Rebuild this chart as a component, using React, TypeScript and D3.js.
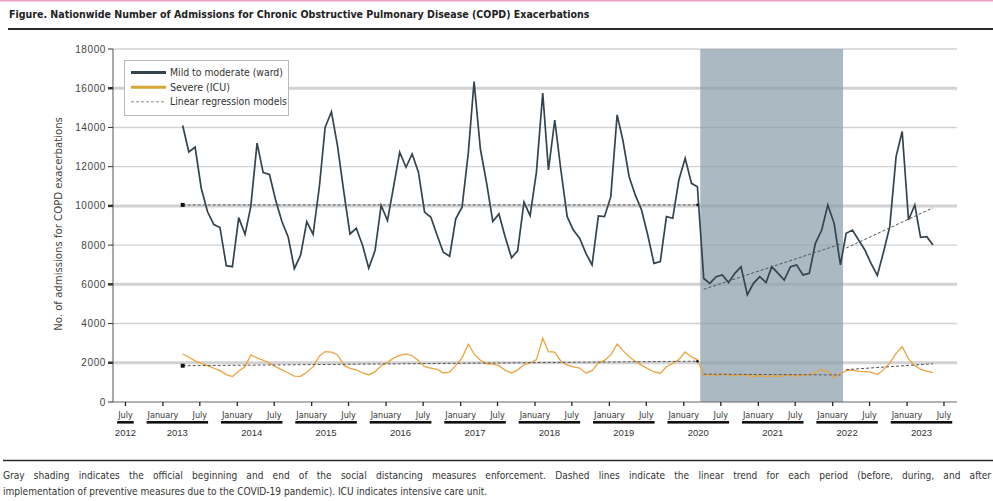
import * as d3 from "d3";
import { useEffect, useRef } from "react";

// Monthly admissions, April 2013 to May 2023
const firstYear = 2013;
const firstMonth = 3; // April

const wardAdmissions = [
  14100, 12750, 13000, 10900, 9700, 9050, 8900, 6950, 6900, 9400,
  8550, 9950, 13200, 11700, 11600, 10300, 9200, 8400, 6800, 7500,
  9200, 8550, 11000, 14000, 14800, 13050, 10700, 8570, 8860, 7980,
  6820, 7720, 10020, 9250, 11040, 12740, 11970, 12650, 11720, 9680,
  9420, 8490, 7640, 7430, 9340, 9930, 12740, 16340, 12900, 11200,
  9200, 9590, 8400, 7350, 7720, 10190, 9500, 11720, 15750, 11830,
  14380, 11830, 9450, 8770, 8350, 7580, 6990, 9490, 9450, 10470,
  14640, 13360, 11490, 10560, 9790, 8530, 7070, 7160, 9450, 9370,
  11320, 12430, 11150, 10980, 6300, 6050, 6390, 6480, 6090, 6560,
  6900, 5460, 6050, 6390, 6090, 6900, 6560, 6220, 6900, 6990,
  6480, 6560, 8090, 8770, 10050, 9110, 6990, 8600, 8770, 8260,
  7750, 7070, 6450, 7670, 8940, 12510, 13790, 9280, 10050, 8400,
  8430, 8000,
];

const icuAdmissions = [
  2450, 2280, 2100, 1970, 1850, 1720, 1600, 1400, 1300, 1580,
  1800, 2400, 2250, 2130, 1980, 1800, 1640, 1480, 1320, 1310,
  1520, 1800, 2350, 2570, 2540, 2400, 1880, 1720, 1640, 1480,
  1380, 1550, 1850, 2020, 2250, 2380, 2450, 2360, 2100, 1800,
  1730, 1660, 1480, 1520, 1870, 2250, 2950, 2450, 2130, 1950,
  1930, 1850, 1610, 1480, 1640, 1900, 1990, 2160, 3250, 2570,
  2540, 2080, 1880, 1790, 1730, 1480, 1600, 2000, 2120, 2400,
  2950, 2630, 2310, 2070, 1880, 1700, 1530, 1470, 1800, 1970,
  2170, 2550, 2300, 2150, 1380, 1400, 1350, 1420, 1380, 1330,
  1400, 1360, 1300, 1350, 1290, 1330, 1300, 1350, 1380, 1320,
  1400, 1380, 1500, 1650, 1550, 1250, 1450, 1600, 1620, 1560,
  1550, 1520, 1400, 1650, 1980, 2480, 2820, 2200, 1850, 1680,
  1580, 1500,
];

// Periods: before, during and after social distancing (index into the monthly arrays)
const periodStart = [0, 84, 107];
const periodEnd = [83, 106, 121];
// Linear trend, [start value, end value] for each period
const wardTrend = [
  [10050, 10050],
  [5750, 8050],
  [7850, 9900],
];
const icuTrend = [
  [1850, 2080],
  [1420, 1380],
  [1650, 1950],
];

const distancingStart = new Date(2020, 2, 22);
const distancingEnd = new Date(2022, 1, 21);

const yTicks = [0, 2000, 4000, 6000, 8000, 10000, 12000, 14000, 16000, 18000];
const thickGrid = [2000, 6000, 10000, 16000];
const years = d3.range(2012, 2024);

const legendItems = [
  "Mild to moderate (ward)",
  "Severe (ICU)",
  "Linear regression models",
];

const title =
  "Figure. Nationwide Number of Admissions for Chronic Obstructive Pulmonary Disease (COPD) Exacerbations";
const captionLine1 =
  "Gray shading indicates the official beginning and end of the social distancing measures enforcement. Dashed lines indicate the linear trend for each period (before, during, and after";
const captionLine2 =
  "implementation of preventive measures due to the COVID-19 pandemic). ICU indicates intensive care unit.";

const narrow = "'Liberation Sans Narrow', 'DejaVu Sans Condensed', 'Arial Narrow', sans-serif";
const regular = "'Liberation Sans', Arial, sans-serif";

const wardColor = "#34444f";
const icuColor = "#eba440";

export default function App() {
  const svgRef = useRef<SVGSVGElement>(null);

  useEffect(() => {
    if (!svgRef.current) return;
    const svg = d3.select(svgRef.current);
    svg.selectAll("*").remove();

    const W = 993;
    const left = 113;
    const right = 957;

    const x = d3
      .scaleTime()
      .domain([new Date(2012, 4, 1), new Date(2023, 8, 3)])
      .range([left, right]);
    const y = d3.scaleLinear().domain([0, 18000]).range([402, 49]);

    const dates = wardAdmissions.map(
      (_, i) => new Date(firstYear, firstMonth + i, 8),
    );

    // scale font so a text node fits a target width
    const fit = (
      sel: d3.Selection<SVGTextElement, unknown, null, undefined>,
      target: number,
    ) => {
      const node = sel.node();
      if (!node) return;
      const len = node.getComputedTextLength();
      const size = parseFloat(sel.attr("font-size"));
      if (len > 0) sel.attr("font-size", (size * target) / len);
    };

    // Top rule and title
    svg.append("rect").attr("x", 0).attr("y", 0).attr("width", W).attr("height", 1.5).attr("fill", "#e7a2c4");
    const t = svg
      .append("text")
      .attr("x", 9)
      .attr("y", 18)
      .attr("font-family", narrow)
      .attr("font-size", 11)
      .attr("font-weight", 700)
      .attr("fill", "#222")
      .text(title);
    fit(t, 581);
    svg.append("line").attr("x1", 8).attr("x2", W).attr("y1", 29).attr("y2", 29).attr("stroke", "#2a2a2a").attr("stroke-width", 2);

    // Gridlines
    svg
      .append("g")
      .selectAll("line")
      .data(yTicks.filter((d) => d > 0))
      .enter()
      .append("line")
      .attr("x1", left)
      .attr("x2", right)
      .attr("y1", (d) => y(d))
      .attr("y2", (d) => y(d))
      .attr("stroke", "#d2d2d2")
      .attr("stroke-width", (d) => (thickGrid.includes(d) ? 3 : 1.4));

    // Social distancing period
    svg
      .append("rect")
      .attr("x", x(distancingStart))
      .attr("y", y(18000))
      .attr("width", x(distancingEnd) - x(distancingStart))
      .attr("height", y(0) - y(18000))
      .attr("fill", "#8a9eac")
      .attr("opacity", 0.72);

    // Y axis
    svg.append("line").attr("x1", left).attr("x2", left).attr("y1", y(18000)).attr("y2", y(0)).attr("stroke", "#555");
    const yAxis = svg.append("g");
    yAxis
      .selectAll("line")
      .data(yTicks)
      .enter()
      .append("line")
      .attr("x1", left - 5)
      .attr("x2", left)
      .attr("y1", (d) => y(d))
      .attr("y2", (d) => y(d))
      .attr("stroke", "#333")
      .attr("stroke-width", (d) => (thickGrid.includes(d) ? 2.5 : 1));
    yAxis
      .selectAll("text")
      .data(yTicks)
      .enter()
      .append("text")
      .attr("x", left - 7)
      .attr("y", (d) => y(d))
      .attr("dy", "0.35em")
      .attr("text-anchor", "end")
      .attr("font-family", regular)
      .attr("font-size", 10)
      .attr("letter-spacing", 0.6)
      .attr("fill", "#444")
      .text((d) => d);

    const yl = svg
      .append("text")
      .attr("transform", "translate(62,224) rotate(-90)")
      .attr("text-anchor", "middle")
      .attr("font-family", narrow)
      .attr("font-size", 10)
      .attr("fill", "#444")
      .text("No. of admissions for COPD exacerbations");
    fit(yl, 214);

    // X axis
    svg.append("line").attr("x1", left).attr("x2", right).attr("y1", y(0)).attr("y2", y(0)).attr("stroke", "#666");
    const tickDates = d3.range(0, 23).map((i) => new Date(2012, 6 + 6 * i, 1));
    const xAxis = svg.append("g");
    xAxis
      .selectAll("line")
      .data(tickDates)
      .enter()
      .append("line")
      .attr("x1", (d) => x(d))
      .attr("x2", (d) => x(d))
      .attr("y1", y(0))
      .attr("y2", y(0) + 4)
      .attr("stroke", "#222")
      .attr("stroke-width", 1.3);
    const monthLabels = xAxis
      .selectAll("text")
      .data(tickDates)
      .enter()
      .append("text")
      .attr("x", (d) => x(d))
      .attr("y", 418)
      .attr("text-anchor", "middle")
      .attr("font-family", narrow)
      .attr("font-size", 9)
      .attr("fill", "#333")
      .text((d) => (d.getMonth() === 0 ? "January" : "July"));

    const halfWidth = new Map<number, number>();
    monthLabels.each(function (d) {
      halfWidth.set(+d, (this as SVGTextElement).getComputedTextLength() / 2);
    });

    years.forEach((yr) => {
      const jan = new Date(yr, 0, 1);
      const jul = new Date(yr, 6, 1);
      const x0 = yr === 2012 ? x(jul) - (halfWidth.get(+jul) || 8) - 1 : x(jan) - (halfWidth.get(+jan) || 13) - 1;
      const x1 = x(jul) + (halfWidth.get(+jul) || 8) + 1;
      svg.append("rect").attr("x", x0).attr("y", 421).attr("width", x1 - x0).attr("height", 2.6).attr("fill", "#111");
      svg
        .append("text")
        .attr("x", (x0 + x1) / 2)
        .attr("y", 436)
        .attr("text-anchor", "middle")
        .attr("font-family", regular)
        .attr("font-size", 9.5)
        .attr("fill", "#333")
        .text(yr);
    });

    // Series
    const line = d3
      .line<number>()
      .x((_, i) => x(dates[i]))
      .y((d) => y(d));

    svg.append("path").attr("d", line(icuAdmissions)).attr("fill", "none").attr("stroke", icuColor).attr("stroke-width", 1.3);
    svg.append("path").attr("d", line(wardAdmissions)).attr("fill", "none").attr("stroke", wardColor).attr("stroke-width", 1.7);

    // Linear trends
    [wardTrend, icuTrend].forEach((trend) => {
      trend.forEach((seg, p) => {
        const xa = x(dates[periodStart[p]]);
        const xb = x(dates[periodEnd[p]]);
        svg
          .append("line")
          .attr("x1", xa)
          .attr("x2", xb)
          .attr("y1", y(seg[0]))
          .attr("y2", y(seg[1]))
          .attr("stroke", "#555")
          .attr("stroke-width", 1)
          .attr("stroke-dasharray", "3,2");
        if (p === 0) {
          svg.append("rect").attr("x", xa - 2).attr("y", y(seg[0]) - 2).attr("width", 4).attr("height", 4).attr("fill", "#111");
          svg.append("circle").attr("cx", xb).attr("cy", y(seg[1])).attr("r", 1.3).attr("fill", "#111");
        }
      });
    });

    // Legend
    const lg = svg.append("g");
    lg.append("rect")
      .attr("x", 124.5)
      .attr("y", 60.5)
      .attr("width", 164)
      .attr("height", 55)
      .attr("fill", "#fff")
      .attr("stroke", "#b9b9b9");
    const legendY = [72.5, 87.3, 101.7];
    const legendW = [113, 60, 117];
    legendItems.forEach((label, i) => {
      const ly = legendY[i];
      if (i === 2) {
        lg.append("line").attr("x1", 131).attr("x2", 166).attr("y1", ly).attr("y2", ly)
          .attr("stroke", "#b8b0a4").attr("stroke-width", 1.5).attr("stroke-dasharray", "3,2");
      } else {
        lg.append("line").attr("x1", 131).attr("x2", 166).attr("y1", ly).attr("y2", ly)
          .attr("stroke", i === 0 ? wardColor : "#d8a836").attr("stroke-width", 3);
      }
      const tx = lg
        .append("text")
        .attr("x", 170)
        .attr("y", ly)
        .attr("dy", "0.35em")
        .attr("font-family", narrow)
        .attr("font-size", 9.5)
        .attr("fill", "#333")
        .text(label);
      fit(tx, legendW[i]);
    });

    // Caption
    svg.append("line").attr("x1", 3).attr("x2", W).attr("y1", 460.5).attr("y2", 460.5).attr("stroke", "#2a2a2a").attr("stroke-width", 1.6);
    const c2 = svg
      .append("text")
      .attr("x", 3)
      .attr("y", 495)
      .attr("font-family", narrow)
      .attr("font-size", 11)
      .attr("fill", "#333")
      .text(captionLine2);
    fit(c2, 485);
    const c1 = svg
      .append("text")
      .attr("x", 3)
      .attr("y", 479)
      .attr("font-family", narrow)
      .attr("font-size", c2.attr("font-size"))
      .attr("fill", "#333")
      .text(captionLine1);
    // justified line: spread the words to the full width
    const n1 = c1.node();
    if (n1) {
      const gaps = captionLine1.split(" ").length - 1;
      const extra = (988 - n1.getComputedTextLength()) / gaps;
      c1.attr("word-spacing", Math.max(0, extra));
    }
  }, []);

  return (
    <svg
      ref={svgRef}
      width={993}
      height={501}
      style={{ position: "absolute", left: 0, top: 0, background: "#fff" }}
    />
  );
}
